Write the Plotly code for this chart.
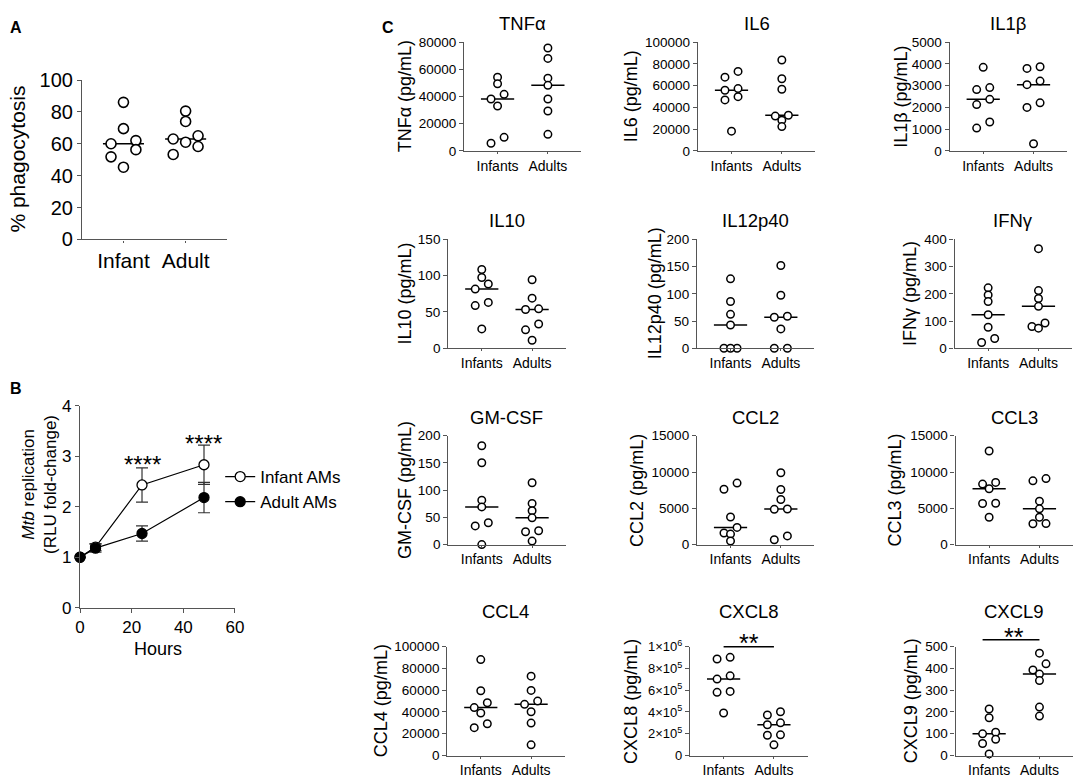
import numpy as np
import plotly.graph_objects as go

# ---- data ----
# A: % phagocytosis
phago_infant = [86, 69.5, 62, 60, 56.3, 51.8, 45.3]
phago_adult = [80.5, 74, 65, 63, 61, 58.3, 53.3]
groups_a = ["Infant", "Adult"]

# B: Mtb replication (RLU fold-change), mean and error
hours = [0, 6, 24, 48]
infant_rlu = [1.0, 1.2, 2.43, 2.83]
infant_err = [0.0, 0.07, 0.34, 0.39]
adult_rlu = [1.0, 1.18, 1.47, 2.18]
adult_err = [0.0, 0.08, 0.15, 0.30]

# C: cytokines (pg/mL)
groups_c = ["Infants", "Adults"]
tnfa_inf = [54200, 49400, 41600, 38200, 33000, 10000, 5700]
tnfa_adu = [75700, 68000, 53500, 48200, 38200, 29400, 12200]
il6_inf = [73100, 67800, 57300, 55800, 49900, 46900, 18200]
il6_adu = [83600, 66300, 56700, 32800, 32000, 28100, 22400]
il1b_inf = [3840, 2910, 2820, 2370, 2130, 1330, 1050]
il1b_adu = [3870, 3790, 3210, 3045, 2210, 2000, 330]
il10_inf = [108.6, 97.5, 88.6, 81.5, 63.2, 58.8, 26.7]
il10_adu = [94.4, 69, 54.3, 53.4, 33.4, 25.4, 11.1]
il12_inf = [127.6, 86, 62.3, 42.7, 0, 0, 0]
il12_adu = [152, 97.3, 58.8, 57, 35.6, 0, 0]
ifng_inf = [222, 196, 172, 123, 77, 36, 21]
ifng_adu = [366, 212, 183, 154, 93, 80, 74]
gmcsf_inf = [181.7, 150.3, 81.7, 69.2, 40.2, 34.3, 0]
gmcsf_adu = [113.6, 75.7, 62.1, 49.1, 25.4, 23.7, 6.5]
ccl2_inf = [8480, 7630, 3800, 2370, 1600, 1450, 500]
ccl2_adu = [9900, 7590, 6210, 4900, 4860, 1200, 670]
ccl3_inf = [12900, 8570, 8340, 7700, 5700, 5660, 3770]
ccl3_adu = [9100, 8790, 5990, 4930, 3770, 2890, 2870]
ccl4_inf = [88100, 59500, 48500, 44000, 39000, 29200, 25600]
ccl4_adu = [72900, 59800, 50000, 47000, 40200, 29800, 9800]
cxcl8_inf = [902000, 887000, 732000, 702000, 589000, 580000, 390000]
cxcl8_adu = [402000, 372000, 300000, 283000, 190000, 186000, 98000]
cxcl9_inf = [213.6, 173.6, 106.8, 99.4, 74.2, 54.9, 7.4]
cxcl9_adu = [470, 421, 393, 374, 344, 222.5, 181]
cxcl8_ticktext = ["0", "2×10<sup>5</sup>", "4×10<sup>5</sup>", "6×10<sup>5</sup>",
                  "8×10<sup>5</sup>", "1×10<sup>6</sup>"]

# name, axis label, infants, adults, y max, tick step
panels_c = [
    ("TNFα", "TNFα (pg/mL)", tnfa_inf, tnfa_adu, 80000, 20000),
    ("IL6", "IL6 (pg/mL)", il6_inf, il6_adu, 100000, 20000),
    ("IL1β", "IL1β (pg/mL)", il1b_inf, il1b_adu, 5000, 1000),
    ("IL10", "IL10 (pg/mL)", il10_inf, il10_adu, 150, 50),
    ("IL12p40", "IL12p40 (pg/mL)", il12_inf, il12_adu, 200, 50),
    ("IFNγ", "IFNγ (pg/mL)", ifng_inf, ifng_adu, 400, 100),
    ("GM-CSF", "GM-CSF (pg/mL)", gmcsf_inf, gmcsf_adu, 200, 50),
    ("CCL2", "CCL2 (pg/mL)", ccl2_inf, ccl2_adu, 15000, 5000),
    ("CCL3", "CCL3 (pg/mL)", ccl3_inf, ccl3_adu, 15000, 5000),
    ("CCL4", "CCL4 (pg/mL)", ccl4_inf, ccl4_adu, 100000, 20000),
    ("CXCL8", "CXCL8 (pg/mL)", cxcl8_inf, cxcl8_adu, 1000000, 200000),
    ("CXCL9", "CXCL9 (pg/mL)", cxcl9_inf, cxcl9_adu, 500, 100),
]

# ---- layout (pixels in a 1084x784 page) ----
W, H = 1084, 784
FONT = "Liberation Sans, Arial, sans-serif"
AX = "#555555"
CAT_RANGE = [-0.667, 1.667]
# y-axis left edge, plot top, y-title centre, title offset above plot
boxes_c = [
    (465, 32, 405, 19), (702, 32, 634, 19), (957, 32, 907, 19),
    (449, 235, 405, 19), (701, 235, 658, 19), (962, 235, 917, 19),
    (449, 437, 405, 19), (701, 437, 640, 19), (963, 437, 902, 19),
    (448, 654, 381, 36), (694, 654, 634, 36), (963, 654, 918, 36),
]
C_W, C_H = 119, 112


def px(x):
    return x / W


def py(y):
    return 1 - y / H


def names(n):
    s = "" if n == 1 else str(n)
    return "x" + s, "y" + s, "xaxis" + s, "yaxis" + s


def swarm(vals, ppu, d, step):
    # simple row-based beeswarm, a bit like Prism's scatter dot plot
    order = sorted(range(len(vals)), key=lambda i: -vals[i])
    rows = []
    for i in order:
        if rows and (vals[rows[-1][0]] - vals[i]) * ppu < d:
            rows[-1].append(i)
        else:
            rows.append([i])
    pats = {1: [0], 2: [1, -1], 3: [1, -1, 0], 4: [1.5, -1.5, 0.5, -0.5]}
    offs = [0.0] * len(vals)
    for row in rows:
        pat = pats.get(len(row), list(np.linspace(-(len(row) - 1) / 2, (len(row) - 1) / 2, len(row))))
        for i, k in zip(row, pat):
            offs[i] = k * step
    return offs


def axis_style(size):
    return dict(showline=True, linecolor=AX, linewidth=1.2, ticks="outside", ticklen=4,
                tickwidth=1.2, tickcolor=AX, showgrid=False, zeroline=False,
                tickfont=dict(size=size, family=FONT, color="black"))


fig = go.Figure()
lay = dict(width=W, height=H, margin=dict(l=0, r=0, t=0, b=0),
           paper_bgcolor="white", plot_bgcolor="white",
           font=dict(family=FONT, color="black"),
           showlegend=True, hovermode=False,
           legend=dict(x=px(218), y=py(461), xanchor="left", yanchor="top",
                       font=dict(size=17, family=FONT), itemwidth=30,
                       bgcolor="rgba(0,0,0,0)", tracegroupgap=0))
annots = []
shapes = []


def dot_panel(n, inf, adu, cats, ymax, dtick, left, top, w, h, msize, mline, d, step,
              tick_size, cat_size):
    xn, yn, xk, yk = names(n)
    ppu = h / ymax
    for gi, vals in enumerate([inf, adu]):
        med = float(np.median(vals))
        fig.add_trace(go.Scatter(x=[gi - 0.33, gi + 0.33], y=[med, med], mode="lines",
                                 line=dict(color="black", width=1.5), showlegend=False,
                                 xaxis=xn, yaxis=yn))
        offs = swarm(vals, ppu, d, step)
        fig.add_trace(go.Scatter(x=[gi + o for o in offs], y=vals, mode="markers",
                                 marker=dict(symbol="circle", size=msize, color="white",
                                             line=dict(color="black", width=mline)),
                                 cliponaxis=False, showlegend=False, xaxis=xn, yaxis=yn))
    xa = axis_style(cat_size)
    xa.update(domain=[px(left), px(left + w)], range=CAT_RANGE, tickvals=[0, 1],
              ticktext=cats, ticklen=2, anchor=yn)
    ya = axis_style(tick_size)
    ya.update(domain=[py(top + h), py(top)], range=[0, ymax], tick0=0, dtick=dtick,
              tickformat="d", anchor=xn)
    lay[xk] = xa
    lay[yk] = ya


# ---- A ----
dot_panel(1, phago_infant, phago_adult, groups_a, 100, 20, 78, 71, 147, 164,
          10, 1.6, 9, 0.2, 20, 21)
annots.append(dict(text="% phagocytosis", x=px(13), y=py(152), textangle=-90,
                   font=dict(size=21)))

# ---- B ----
for name, m, e, fill in [("Infant AMs", infant_rlu, infant_err, "white"),
                         ("Adult AMs", adult_rlu, adult_err, "black")]:
    fig.add_trace(go.Scatter(x=hours, y=m, name=name, mode="lines+markers",
                             line=dict(color="black", width=1.2),
                             marker=dict(symbol="circle", size=10, color=fill,
                                         line=dict(color="black", width=1.3)),
                             error_y=dict(type="data", array=e, color="#333333",
                                          thickness=1.2, width=6),
                             cliponaxis=False, xaxis="x2", yaxis="y2"))
xa = axis_style(17)
xa.update(domain=[px(76), px(233)], range=[0, 60], tickvals=[0, 20, 40, 60], anchor="y2")
ya = axis_style(17)
ya.update(domain=[py(614), py(406)], range=[0, 4], dtick=1, tick0=0, anchor="x2")
lay["xaxis2"] = xa
lay["yaxis2"] = ya
annots.append(dict(text="<i>Mtb</i> replication<br>(RLU fold-change)", x=px(35), y=py(487),
                   textangle=-90, font=dict(size=17)))
annots.append(dict(text="Hours", x=px(155), y=py(656), font=dict(size=18)))
annots.append(dict(text="****", x=24, y=2.83, xref="x2", yref="y2", font=dict(size=24)))
annots.append(dict(text="****", x=48, y=3.25, xref="x2", yref="y2", font=dict(size=24)))

# ---- C ----
for k, (title, ylab, inf, adu, ymax, dtick) in enumerate(panels_c):
    n = k + 3
    left, top, ytx, toff = boxes_c[k]
    dot_panel(n, inf, adu, groups_c, ymax, dtick, left, top, C_W, C_H,
              7.5, 1.5, 6.5, 0.13, 13.5, 14)
    annots.append(dict(text=title, x=px(left + C_W / 2), y=py(top - toff), font=dict(size=18.5)))
    annots.append(dict(text=ylab, x=px(ytx), y=py(top + C_H / 2), textangle=-90,
                       font=dict(size=18)))
    if title == "CXCL8":
        lay["yaxis%d" % n].update(tickvals=[0, 200000, 400000, 600000, 800000, 1000000],
                                  ticktext=cxcl8_ticktext, tickfont=dict(size=13))

# significance bars for CXCL8 and CXCL9
for n, y_line, y_star, x0 in [(13, 654, 650.5, 0.0), (14, 647, 644, -0.13)]:
    shapes.append(dict(type="line", xref="x%d domain" % n, yref="paper",
                       x0=(x0 - CAT_RANGE[0]) / (CAT_RANGE[1] - CAT_RANGE[0]),
                       x1=(1.0 - CAT_RANGE[0]) / (CAT_RANGE[1] - CAT_RANGE[0]),
                       y0=py(y_line), y1=py(y_line), line=dict(color="black", width=1.5)))
    annots.append(dict(text="**", x=0.5, xref="x%d" % n, y=py(y_star), font=dict(size=25)))

# panel letters
for letter, x, y in [("A", 3, 6), ("B", 3, 378), ("C", 380, 6)]:
    annots.append(dict(text="<b>%s</b>" % letter, x=px(x), y=py(y), xanchor="left",
                       yanchor="top", font=dict(size=16)))

for a in annots:
    a.setdefault("xref", "paper")
    a.setdefault("yref", "paper")
    a.setdefault("xanchor", "center")
    a.setdefault("yanchor", "middle")
    a.setdefault("showarrow", False)
    a["font"] = dict(family=FONT, color="black", **a["font"])

lay["annotations"] = annots
lay["shapes"] = shapes
fig.update_layout(**lay)

# page margin off so the 1084x784 figure fills the window exactly
fig.write_html("out.html", config={"displayModeBar": False},
               post_script="document.body.style.margin='0';")
